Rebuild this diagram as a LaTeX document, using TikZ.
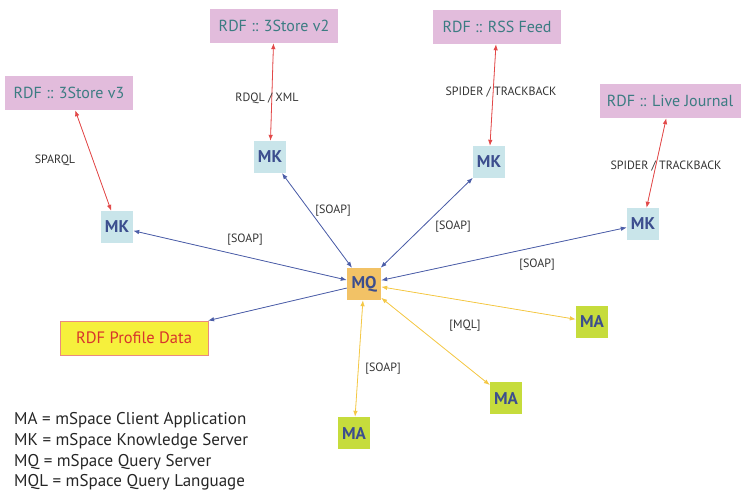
\documentclass[tikz,border=0pt]{standalone}
\usepackage{fontspec}
\setmainfont{PT Sans}
\usetikzlibrary{arrows.meta}
\definecolor{rdfpink}{HTML}{E2BCDC}
\definecolor{rdftext}{HTML}{3C7C82}
\definecolor{mkfill}{HTML}{C9E5EA}
\definecolor{nodetext}{HTML}{3C4E8E}
\definecolor{mqfill}{HTML}{F2C266}
\definecolor{mafill}{HTML}{C6DC3C}
\definecolor{proffill}{HTML}{F6F03C}
\definecolor{profborder}{HTML}{EA8A80}
\definecolor{proftext}{HTML}{D8352C}
\definecolor{redline}{HTML}{E24848}
\definecolor{blueline}{HTML}{4C5EA8}
\definecolor{yellowline}{HTML}{F4C846}
\definecolor{labeltext}{HTML}{333333}
\begin{document}
\begin{tikzpicture}[x=1pt,y=-1pt,
  rdfbox/.style={fill=rdfpink, text=rdftext, minimum width=128pt, minimum height=34pt, inner sep=0pt, font=\fontsize{16}{18}\selectfont},
  sq/.style={minimum width=32pt, minimum height=32pt, inner sep=0pt, text=nodetext, font=\fontsize{17}{19}\selectfont\bfseries},
  mkbox/.style={sq, fill=mkfill},
  mqbox/.style={sq, fill=mqfill, minimum width=34pt},
  mabox/.style={sq, fill=mafill},
  lbl/.style={text=labeltext, font=\fontsize{12}{14}\selectfont, inner sep=0pt},
  tip/.style={{Latex[length=6pt,width=4.5pt]}-{Latex[length=6pt,width=4.5pt]}},
  redarr/.style={tip, draw=redline, fill=redline, line width=0.8pt},
  bluearr/.style={tip, draw=blueline, fill=blueline, line width=0.8pt},
  yelarr/.style={tip, draw=yellowline, fill=yellowline, line width=0.8pt},
  legend/.style={anchor=west, inner sep=0pt, text=black!85, font=\fontsize{17}{19}\selectfont}
]
\useasboundingbox (0,0) rectangle (743,490);

% RDF sources
\node[rdfbox] (r1) at (69,93) {RDF :: 3Store v3};
\node[rdfbox] (r2) at (274,26) {RDF :: 3Store v2};
\node[rdfbox] (r3) at (497,27) {RDF :: RSS Feed};
\node[rdfbox, minimum width=141pt] (r4) at (670,101) {RDF :: Live Journal};

% knowledge servers
\node[mkbox] (k1) at (117,227) {MK};
\node[mkbox] (k2) at (270,157) {MK};
\node[mkbox] (k3) at (489,162) {MK};
\node[mkbox] (k4) at (643,224) {MK};

% query server
\node[mqbox] (q) at (364,284) {MQ};

% clients
\node[mabox] (a1) at (592,322) {MA};
\node[mabox] (a2) at (506,398) {MA};
\node[mabox] (a3) at (354,433) {MA};

% profile data
\node[fill=proffill, draw=profborder, line width=0.8pt, text=proftext, minimum width=148pt, minimum height=34pt, inner sep=0pt, font=\fontsize{16.5}{18}\selectfont] (p) at (134,338) {RDF Profile Data};

% red connectors
\draw[redarr] (r1) -- (k1);
\draw[redarr] (r2) -- (k2);
\draw[redarr] (r3) -- (k3);
\draw[redarr] (r4) -- (k4);

% blue connectors
\draw[bluearr] (q) -- (k1);
\draw[bluearr] (q) -- (k2);
\draw[bluearr] (q) -- (k3);
\draw[bluearr] (q) -- (k4);
\draw[draw=blueline, fill=blueline, line width=0.8pt, -{Latex[length=6pt,width=4.5pt]}] (q) -- (p);

% yellow connectors
\draw[yelarr] (q) -- (a1);
\draw[yelarr] (q) -- (a2);
\draw[yelarr] (q) -- (a3);

% labels
\node[lbl] (l1) at (55,160) {SPARQL};
\node[lbl] (l2) at (267,98) {RDQL / XML};
\node[lbl] (l3) at (501,92) {SPIDER / TRACKBACK};
\node[lbl] (l4) at (666,166) {SPIDER / TRACKBACK};
\node[lbl] (l5) at (245,240) {[SOAP]};
\node[lbl] (l6) at (333,211) {[SOAP]};
\node[lbl] (l7) at (453,227) {[SOAP]};
\node[lbl] (l8) at (537,265) {[SOAP]};
\node[lbl] (l9) at (465,326) {[MQL]};
\node[lbl] (l10) at (383,369) {[SOAP]};

% legend
\node[legend] (g1) at (14,420) {MA = mSpace Client Application};
\node[legend] (g2) at (14,441) {MK = mSpace Knowledge Server};
\node[legend] (g3) at (14,462) {MQ = mSpace Query Server};
\node[legend] (g4) at (14,482) {MQL = mSpace Query Language};
\end{tikzpicture}
\end{document}
